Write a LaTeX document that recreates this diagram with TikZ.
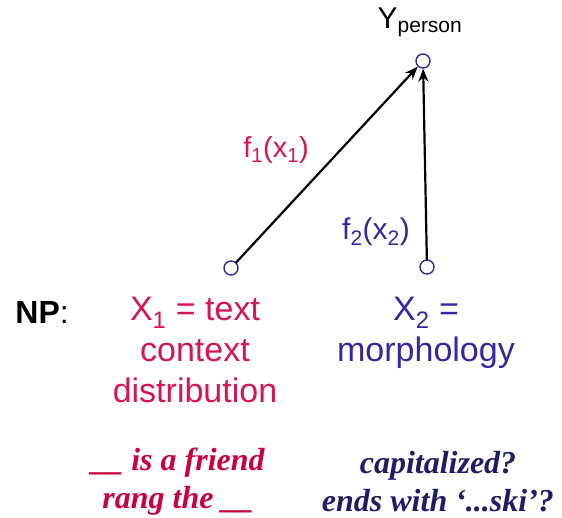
\documentclass[tikz,border=0pt]{standalone}
\usepackage{fontspec}
\setmainfont{Liberation Sans}
\newfontfamily\exfont{Liberation Serif}
\usetikzlibrary{arrows.meta}
\definecolor{featred}{RGB}{214,22,82}
\definecolor{featblue}{RGB}{52,40,160}
\definecolor{exred}{RGB}{200,0,60}
\definecolor{exblue}{RGB}{30,30,100}
\tikzstyle{every path}=[line width=2.2pt,line cap=round,line join=round]
\tikzset{
	var/.style={circle,draw=featblue,fill=white,line width=1.4pt,minimum size=14pt,inner sep=0pt},
	feat/.style={align=center,font=\fontsize{34}{41}\selectfont},
	ex/.style={align=center,font=\exfont\bfseries\itshape\fontsize{32}{38}\selectfont},
}

\begin{document}
\begin{tikzpicture}[x=1pt,y=-1pt]
		\tikzstyle{arrow} = [-{Stealth[length=13pt, width=10pt]}]
		\useasboundingbox (0,0) rectangle (562,517);
		
		% variables
		\node[var] (Y) at (423,61) {};
		\node[var] (X1) at (231,268) {};
		\node[var] (X2) at (427,267) {};
		\node[font=\fontsize{30}{32}\selectfont] (Ylab) at (420,22) {Y\textsubscript{person}};
		
		% features
		\draw[arrow] (X1) -- (Y);
		\draw[arrow] (X2) -- (Y);
		\node[text=featred,font=\fontsize{29}{32}\selectfont] (f1) at (276,150) {f\textsubscript{1}(x\textsubscript{1})};
		\node[text=featblue,font=\fontsize{30}{32}\selectfont] (f2) at (376,232) {f\textsubscript{2}(x\textsubscript{2})};
		
		\node[font=\bfseries\fontsize{32}{34}\selectfont,anchor=west] (NP) at (11,312) {NP\mdseries:};
		\node[feat,text=featred,anchor=north] (x1txt) at (195,293) {X\textsubscript{1} = text\\context\\distribution};
		\node[feat,text=featblue,anchor=north] (x2txt) at (426,293) {X\textsubscript{2} =\\morphology};
		
		% examples
		\node[ex,text=exred] (ex1) at (178,482) {\_\_ is a friend\\rang the \_\_};
		\node[ex,text=exblue] (ex2) at (438,482) {capitalized?\\ends with ‘...ski’?};
		
	\end{tikzpicture}
\end{document}
